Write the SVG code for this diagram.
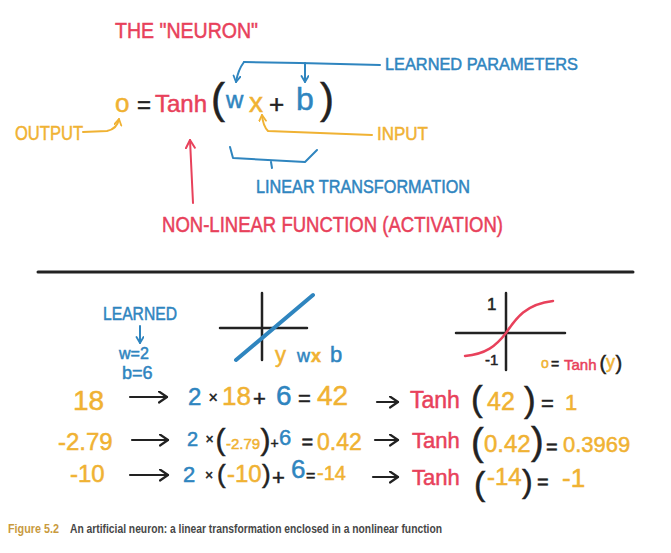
<svg xmlns="http://www.w3.org/2000/svg" width="671" height="553" viewBox="0 0 671 553">
<style>
text{font-family:"Liberation Sans","DejaVu Sans",sans-serif;stroke-width:0.5}
.r{fill:#e8415b;stroke:#e8415b}.b{fill:#2f85bf;stroke:#2f85bf}.o{fill:#f0b233;stroke:#f0b233}.k{fill:#222;stroke:#222}
.lr{stroke:#e8415b}.lb{stroke:#2f85bf}.lo{stroke:#f0b233}.lk{stroke:#222}
path,line{fill:none;stroke-linecap:round;stroke-linejoin:round}
</style>
<defs>
<marker id="mb" markerWidth="10" markerHeight="10" refX="7" refY="4" orient="auto" markerUnits="userSpaceOnUse"><path d="M1,0.5 L7,4 L1,7.5" stroke="#2f85bf" stroke-width="1.8"/></marker>
<marker id="mo" markerWidth="10" markerHeight="10" refX="7" refY="4" orient="auto" markerUnits="userSpaceOnUse"><path d="M1,0.5 L7,4 L1,7.5" stroke="#f0b233" stroke-width="1.8"/></marker>
<marker id="mr" markerWidth="12" markerHeight="12" refX="9" refY="5" orient="auto" markerUnits="userSpaceOnUse"><path d="M1,0.5 L9,5 L1,9.5" stroke="#e8415b" stroke-width="2"/></marker>
<marker id="mk" markerWidth="12" markerHeight="14" refX="9" refY="6" orient="auto" markerUnits="userSpaceOnUse"><path d="M1,0.5 L9,6 L1,11.5" stroke="#222" stroke-width="2.2"/></marker>
</defs>
<rect width="671" height="553" fill="#fff"/>

<g id="title"><text class="r" x="115" y="38" font-size="22" textLength="143" lengthAdjust="spacingAndGlyphs">THE "NEURON"</text></g>

<g id="equation">
<text class="o" x="115" y="112" font-size="26">o</text>
<text class="k" x="137" y="113" font-size="24">=</text>
<text class="r" x="155" y="112" font-size="24">Tanh</text>
<text class="k" x="211" y="113" font-size="42">(</text>
<text class="b" x="226" y="108" font-size="24">w</text>
<text class="o" x="249" y="112" font-size="28">x</text>
<text class="k" x="269" y="113" font-size="26">+</text>
<text class="b" x="296" y="110" font-size="32">b</text>
<text class="k" x="320" y="113" font-size="42">)</text>
</g>

<g id="learned-parameters"><text class="b" x="385" y="70" font-size="17" textLength="193" lengthAdjust="spacingAndGlyphs">LEARNED PARAMETERS</text></g>
<g id="input"><text class="o" x="377" y="140" font-size="19" textLength="51" lengthAdjust="spacingAndGlyphs">INPUT</text></g>
<g id="output"><text class="o" x="15" y="140" font-size="20" textLength="68" lengthAdjust="spacingAndGlyphs">OUTPUT</text></g>
<g id="linear-transformation"><text class="b" x="256" y="193" font-size="18" textLength="214" lengthAdjust="spacingAndGlyphs">LINEAR TRANSFORMATION</text></g>
<g id="non-linear-function"><text class="r" x="162" y="232" font-size="22" textLength="341" lengthAdjust="spacingAndGlyphs">NON-LINEAR FUNCTION (ACTIVATION)</text></g>

<g id="connectors">
<path class="lb" stroke-width="2" d="M380,65 L300,63 L244,62"/>
<path class="lb" stroke-width="2" d="M244,62 Q238,70 236,82" marker-end="url(#mb)"/>
<path class="lb" stroke-width="2" d="M305,63 L305,82" marker-end="url(#mb)"/>
<path class="lo" stroke-width="2" d="M372,135 L268,131 Q263,126 262,115" marker-end="url(#mo)"/>
<path class="lo" stroke-width="2" d="M83,132 L107,131 Q117,129 119,119" marker-end="url(#mo)"/>
<path class="lr" stroke-width="2" d="M193,203 L190,140" marker-end="url(#mr)"/>
<path class="lb" stroke-width="2" d="M230,147 L233,158 L305,162 L317,150 M271,162 L272,168"/>
<path class="lb" stroke-width="2" d="M140,326 L140,343" marker-end="url(#mb)"/>
<path class="lk" stroke-width="2.2" d="M130,397 L167,397" marker-end="url(#mk)"/>
<path class="lk" stroke-width="2.2" d="M132,440 L168,440" marker-end="url(#mk)"/>
<path class="lk" stroke-width="2.2" d="M130,475 L168,475" marker-end="url(#mk)"/>
<path class="lk" stroke-width="2.2" d="M377,402 L398,402" marker-end="url(#mk)"/>
<path class="lk" stroke-width="2.2" d="M375,440 L398,440" marker-end="url(#mk)"/>
<path class="lk" stroke-width="2.2" d="M373,477 L398,477" marker-end="url(#mk)"/>
</g>

<line class="lk" x1="38" y1="272" x2="633" y2="272" stroke-width="3"/>

<g id="learned-values">
<text class="b" x="103" y="320" font-size="18" textLength="74" lengthAdjust="spacingAndGlyphs">LEARNED</text>
<text class="b" x="119" y="359" font-size="16">w=2</text>
<text class="b" x="122" y="379" font-size="18">b=6</text>
</g>

<g id="linear-graph">
<path class="lk" stroke-width="2.5" d="M262,293 L262,360 M220,328 L307,328"/>
<path class="lb" stroke-width="4" d="M236,360 L313,295"/>
<text class="o" x="275" y="362" font-size="22">y</text>
<text class="b" x="297" y="362" font-size="18">w</text>
<text class="o" x="311" y="362" font-size="18" font-weight="bold">x</text>
<text class="b" x="330" y="362" font-size="22">b</text>
</g>

<g id="tanh-graph">
<path class="lk" stroke-width="2.5" d="M506,293 L506,370 M456,333 L565,333"/>
<path class="lr" stroke-width="2.5" d="M465,356 C486,354 496,346 506,333 C516,318 526,304 553,301"/>
<text class="k" x="487" y="310" font-size="17">1</text>
<text class="k" x="485" y="365" font-size="15">-1</text>
<text class="o" x="541" y="368" font-size="14">o</text>
<text class="k" x="551" y="369" font-size="14">=</text>
<text class="r" x="564" y="370" font-size="15">Tanh</text>
<text class="k" x="599.5" y="370" font-size="20">(</text>
<text class="o" x="606" y="368" font-size="18">y</text>
<text class="k" x="615.5" y="370" font-size="20">)</text>
</g>

<g id="row-18">
<text class="o" x="73" y="410" font-size="28">18</text>
<text class="b" x="188" y="405" font-size="24">2</text>
<text class="k" x="208.5" y="403" font-size="16">×</text>
<text class="o" x="222" y="405" font-size="26">18</text>
<text class="k" x="253" y="406" font-size="22">+</text>
<text class="b" x="276" y="405" font-size="28">6</text>
<text class="k" x="298" y="406" font-size="22">=</text>
<text class="o" x="317" y="405" font-size="28">42</text>
<text class="r" x="410" y="408" font-size="23">Tanh</text>
<text class="k" x="471" y="411" font-size="35">(</text>
<text class="o" x="487" y="410" font-size="25">42</text>
<text class="k" x="524" y="412" font-size="35">)</text>
<text class="k" x="541" y="411" font-size="22">=</text>
<text class="o" x="565" y="410" font-size="22">1</text>
</g>

<g id="row-2.79">
<text class="o" x="58" y="450" font-size="24">-2.79</text>
<text class="b" x="187" y="446" font-size="20">2</text>
<text class="k" x="205.5" y="444" font-size="14">×</text>
<text class="k" x="215.5" y="450" font-size="30">(</text>
<text class="o" x="226" y="449" font-size="15">-2.79</text>
<text class="k" x="260.5" y="450" font-size="30">)</text>
<text class="k" x="270.5" y="448" font-size="14">+</text>
<text class="b" x="279" y="445" font-size="22">6</text>
<text class="k" x="301.5" y="449" font-size="20">=</text>
<text class="o" x="317" y="450" font-size="23">0.42</text>
<text class="r" x="412" y="448" font-size="22">Tanh</text>
<text class="k" x="471" y="455" font-size="38">(</text>
<text class="o" x="484" y="452" font-size="24">0.42</text>
<text class="k" x="531" y="454" font-size="38">)</text>
<text class="k" x="546" y="454" font-size="20">=</text>
<text class="o" x="563" y="452" font-size="22">0.3969</text>
</g>

<g id="row-10">
<text class="o" x="70" y="482" font-size="24">-10</text>
<text class="b" x="183" y="482" font-size="22">2</text>
<text class="k" x="205" y="480" font-size="14">×</text>
<text class="k" x="217" y="483" font-size="26">(</text>
<text class="o" x="227" y="482" font-size="24">-10</text>
<text class="k" x="262" y="483" font-size="26">)</text>
<text class="k" x="272" y="485" font-size="22">+</text>
<text class="b" x="291" y="478" font-size="26">6</text>
<text class="k" x="306" y="481" font-size="16">=</text>
<text class="o" x="317" y="480" font-size="20">-14</text>
<text class="r" x="412" y="485" font-size="22">Tanh</text>
<text class="k" x="474" y="495" font-size="34">(</text>
<text class="o" x="487" y="485" font-size="24">-14</text>
<text class="k" x="522" y="492" font-size="32">)</text>
<text class="k" x="537" y="489" font-size="20">=</text>
<text class="o" x="562" y="487" font-size="26">-1</text>
</g>

<g id="caption">
<text x="8" y="533" font-size="12" font-weight="bold" fill="#c99a3e" stroke="none" textLength="51" lengthAdjust="spacingAndGlyphs">Figure 5.2</text>
<text x="70" y="533" font-size="12" font-weight="bold" fill="#474747" stroke="none" textLength="372" lengthAdjust="spacingAndGlyphs">An artificial neuron: a linear transformation enclosed in a nonlinear function</text>
</g>
</svg>
